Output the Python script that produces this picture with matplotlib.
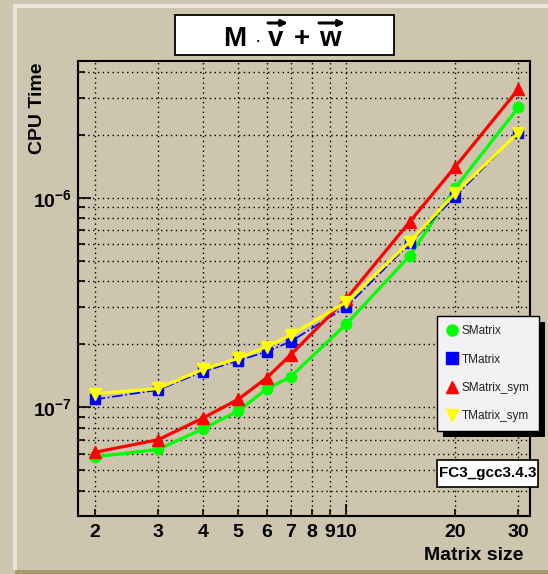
import matplotlib
matplotlib.use("Agg")
import matplotlib.pyplot as plt
from matplotlib.lines import Line2D
from matplotlib.patches import Rectangle, FancyArrowPatch
from matplotlib.ticker import FixedLocator, NullFormatter, FixedFormatter

plt.rcParams['font.family'] = ['Liberation Sans', 'DejaVu Sans']
plt.rcParams['mathtext.fontset'] = 'custom'
plt.rcParams['mathtext.rm'] = 'Liberation Sans'
plt.rcParams['mathtext.bf'] = 'Liberation Sans:bold'
plt.rcParams['mathtext.it'] = 'Liberation Sans:italic'

# data
sizes = [2, 3, 4, 5, 6, 7, 10, 15, 20, 30]
smatrix = [5.8e-8, 6.3e-8, 7.9e-8, 9.6e-8, 1.22e-7, 1.40e-7, 2.5e-7, 5.3e-7, 1.11e-6, 2.7e-6]
tmatrix = [1.09e-7, 1.21e-7, 1.48e-7, 1.67e-7, 1.84e-7, 2.06e-7, 3.02e-7, 6.06e-7, 1.01e-6, 2.04e-6]
smatrix_sym = [6.1e-8, 7.0e-8, 8.9e-8, 1.09e-7, 1.38e-7, 1.78e-7, 3.3e-7, 7.7e-7, 1.4e-6, 3.3e-6]
tmatrix_sym = [1.16e-7, 1.23e-7, 1.52e-7, 1.71e-7, 1.95e-7, 2.21e-7, 3.19e-7, 6.17e-7, 1.05e-6, 2.04e-6]

series_names = ["SMatrix", "TMatrix", "SMatrix_sym", "TMatrix_sym"]
x_tick_values = [2, 3, 4, 5, 6, 7, 8, 9, 10, 20, 30]
x_tick_labels = ["2", "3", "4", "5", "6", "7", "8", "9", "10", "20", "30"]
y_major_values = [1e-7, 1e-6]
y_major_labels = [r"$\mathbf{10^{-7}}$", r"$\mathbf{10^{-6}}$"]

W, H = 548, 574
bg = "#cdc5ad"
fig = plt.figure(figsize=(W / 100, H / 100), dpi=100, facecolor=bg)


def fx(px):
    return px / W


def fy(py):
    return 1 - py / H


# canvas bevel border
fig.patches.append(Rectangle((13 / W, 1 - 8 / H), 1, 4 / H, transform=fig.transFigure,
                             facecolor="#ede3dc", edgecolor="none"))
fig.patches.append(Rectangle((13 / W, 4 / H), 4 / W, 1 - 12 / H, transform=fig.transFigure,
                             facecolor="#ede3dc", edgecolor="none"))
fig.patches.append(Rectangle((15 / W, 0), 1, 4 / H, transform=fig.transFigure,
                             facecolor="#a39c68", edgecolor="none"))

ax = fig.add_axes([77.6 / W, 1 - 516 / H, (529.5 - 77.6) / W, (516 - 61) / H], facecolor=bg)
ax.set_xscale("log")
ax.set_yscale("log")

ax.plot(sizes, smatrix, color="#00ff00", lw=2.3, marker="o", ms=7.5, mec="#00ff00", zorder=3)
ax.plot(sizes, tmatrix, color="#0000ff", lw=1.2, ls="-.", marker="s", ms=7, mec="#0000ff", zorder=3)
ax.plot(sizes, smatrix_sym, color="#ff0000", lw=2.3, marker="^", ms=9, mec="#ff0000", zorder=4)
ax.plot(sizes, tmatrix_sym, color="#ffff00", lw=2.3, marker="v", ms=9, mec="#ffff00", zorder=4)

ax.set_xlim(1.794, 32.2)
ax.set_ylim(3.03e-8, 4.49e-6)

# x ticks: 10 is the long tick, the rest short, all labelled
ax.xaxis.set_major_locator(FixedLocator([10]))
ax.xaxis.set_major_formatter(FixedFormatter(["10"]))
minor_x = [v for v in x_tick_values if v != 10]
ax.xaxis.set_minor_locator(FixedLocator(minor_x))
ax.xaxis.set_minor_formatter(FixedFormatter([l for v, l in zip(x_tick_values, x_tick_labels) if v != 10]))

ax.yaxis.set_major_locator(FixedLocator(y_major_values))
ax.yaxis.set_major_formatter(FixedFormatter(y_major_labels))
minor_y = [m * 10.0 ** e for e in (-8, -7, -6) for m in range(2, 10)]
ax.yaxis.set_minor_locator(FixedLocator(minor_y))
ax.yaxis.set_minor_formatter(NullFormatter())

ax.tick_params(which="both", direction="in", colors="black", labelsize=14, width=1.2)
ax.tick_params(which="major", length=9)
ax.tick_params(which="minor", length=5)
ax.tick_params(axis="x", which="both", pad=6)
ax.tick_params(axis="y", which="both", pad=4)
for lab in ax.get_xticklabels(which="both"):
    lab.set_fontweight("bold")

ax.grid(True, which="both", color="black", ls=(0, (1, 2.5)), lw=1.0)
for s in ax.spines.values():
    s.set_linewidth(1.5)

fig.text(38 / W, 1 - 63 / H, "CPU Time", rotation=90, ha="center", va="top",
         fontsize=14, fontweight="bold")
fig.text(524 / W, 1 - 555 / H, "Matrix size", ha="right", va="center",
         fontsize=14, fontweight="bold")

# title box: M . v + w with heavy arrows over v and w
fig.patches.append(Rectangle((fx(175), fy(55)), (394 - 175) / W, 40 / H,
                             transform=fig.transFigure, facecolor="white",
                             edgecolor="black", lw=1.3))
title_parts = [("M", 223, 20, "bold"), ("\u00b7", 255, 14, "normal"),
               ("v", 268, 20, "bold"), ("+", 294, 20, "bold"), ("w", 319, 20, "bold")]
for txt, px, size, weight in title_parts:
    fig.text(fx(px), fy(46), txt, ha="left", va="baseline", fontsize=size, fontweight=weight)
for x0, x1 in [(268, 288), (319, 345)]:
    fig.patches.append(FancyArrowPatch((fx(x0), fy(23)), (fx(x1), fy(23)),
                                       transform=fig.transFigure, arrowstyle="-|>",
                                       mutation_scale=9, lw=2.2, color="black",
                                       shrinkA=0, shrinkB=0))

# legend (markers only) with black shadow
handles = [
    Line2D([], [], ls="none", marker="o", ms=8, color="#00ff00"),
    Line2D([], [], ls="none", marker="s", ms=8, color="#0000ff"),
    Line2D([], [], ls="none", marker="^", ms=9, color="#ff0000"),
    Line2D([], [], ls="none", marker="v", ms=9, color="#ffff00"),
]
leg = fig.legend(handles, series_names, loc="upper left",
                 bbox_to_anchor=(436.7 / W, 1 - 316 / H), bbox_transform=fig.transFigure,
                 borderaxespad=0, fancybox=False, frameon=True, fontsize=8.5,
                 handlelength=1.0, handletextpad=0.3, labelspacing=1.37,
                 borderpad=0.8, labelcolor="#222222")
leg.get_frame().set_facecolor("#f4f1f4")
leg.get_frame().set_edgecolor("black")
leg.get_frame().set_linewidth(1.0)
leg.get_frame().set_alpha(1)
leg.set_zorder(10)

fig.canvas.draw()
bb = leg.get_window_extent()
fig.patches.append(Rectangle(((bb.x0 + 6) / W, (bb.y0 - 6) / H), bb.width / W, bb.height / H,
                             transform=fig.transFigure, facecolor="black", edgecolor="none",
                             zorder=9))

# label box
fig.patches.append(Rectangle((437 / W, 1 - 487 / H), 101 / W, 27 / H,
                             transform=fig.transFigure, facecolor="white",
                             edgecolor="black", lw=1.2, zorder=9))
fig.text(487.5 / W, 1 - 473.5 / H, "FC3_gcc3.4.3", ha="center", va="center",
         fontsize=11, fontweight="bold", zorder=11)

fig.savefig("out.png", dpi=100, facecolor=bg)
